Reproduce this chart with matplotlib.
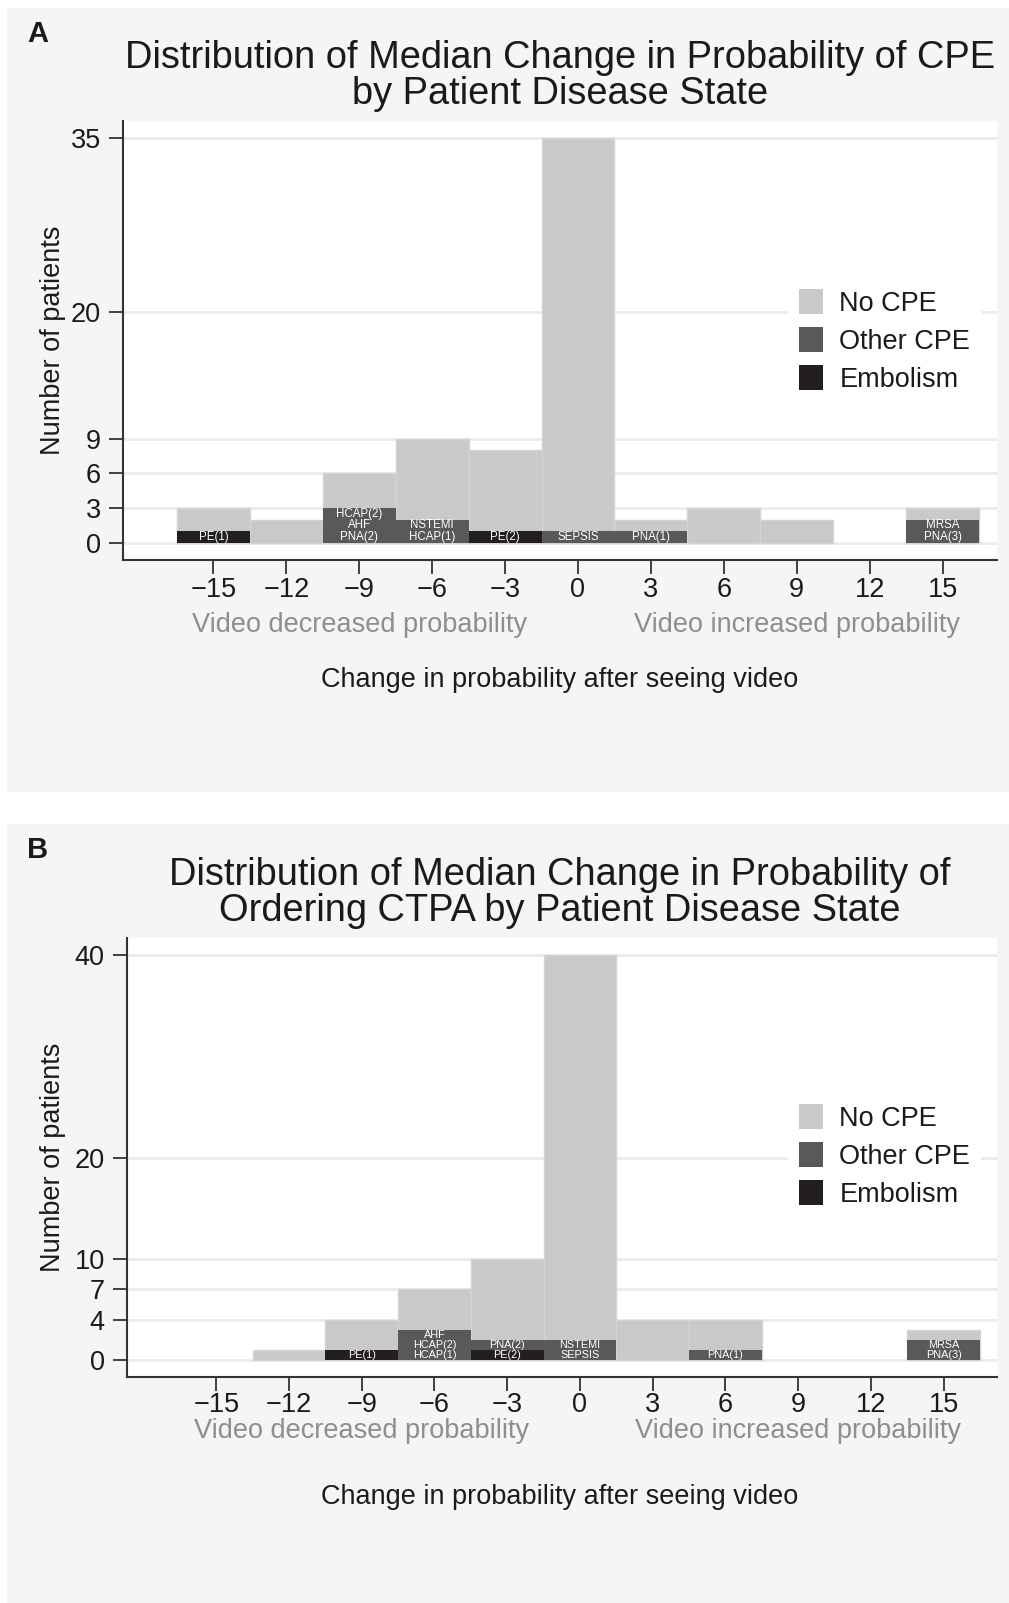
import matplotlib.pyplot as plt
from matplotlib.patches import Patch, Rectangle
from matplotlib.transforms import blended_transform_factory

plt.rcParams['font.family'] = ['Liberation Sans', 'DejaVu Sans']

# bin centres (change in probability, width 3)
bins = [-15, -12, -9, -6, -3, 0, 3, 6, 9, 12, 15]

# panel A: probability of CPE
a_total = [3, 2, 6, 9, 8, 35, 2, 3, 2, 0, 3]
a_embolism = [1, 0, 0, 0, 1, 0, 0, 0, 0, 0, 0]
a_other = [0, 0, 3, 2, 0, 1, 1, 0, 0, 0, 2]
# labels from bottom to top inside the coloured part of each bar
a_labels = [["PE(1)"], [], ["PNA(2)", "AHF", "HCAP(2)"], ["HCAP(1)", "NSTEMI"],
            ["PE(2)"], ["SEPSIS"], ["PNA(1)"], [], [], [], ["PNA(3)", "MRSA"]]
a_yticks = [0, 3, 6, 9, 20, 35]

# panel B: probability of ordering CTPA
b_total = [0, 1, 4, 7, 10, 40, 4, 4, 0, 0, 3]
b_embolism = [0, 0, 1, 0, 1, 0, 0, 0, 0, 0, 0]
b_other = [0, 0, 0, 3, 1, 2, 0, 1, 0, 0, 2]
b_labels = [[], [], ["PE(1)"], ["HCAP(1)", "HCAP(2)", "AHF"], ["PE(2)", "PNA(2)"],
            ["SEPSIS", "NSTEMI"], [], ["PNA(1)"], [], [], ["PNA(3)", "MRSA"]]
b_yticks = [0, 4, 7, 10, 20, 40]

C_NO = "#c8c9cb"
C_OTHER = "#59595b"
C_EMB = "#231f20"
C_TXT = "#1a1a1a"
C_HINT = "#8e8e8e"

W, H = 1009, 1603
fig = plt.figure(figsize=(W / 100, H / 100), dpi=100)
fig.patch.set_facecolor("white")


def fx(x):
    return x / W


def fy(y):
    return 1 - y / H


def nonzero(xs, hs, bottoms=None):
    # skip empty bins so no outline is drawn for them
    if bottoms is None:
        bottoms = [0] * len(xs)
    keep = [i for i, h in enumerate(hs) if h > 0]
    return [xs[i] for i in keep], [hs[i] for i in keep], [bottoms[i] for i in keep]


def panel(letter, title, top, bot, box, total, emb, other, labels, yticks,
          xlim, ylim, lab_size, tick_pad, hint_off, leg_off):
    # grey panel background
    fig.patches.append(Rectangle((fx(7), fy(box[1])), fx(1009 - 7), (box[1] - box[0]) / H,
                                 transform=fig.transFigure, facecolor="#f5f5f5",
                                 edgecolor="none", zorder=-10))
    left, right = box[2], 997
    ax = fig.add_axes([fx(left), fy(bot), fx(right - left), (bot - top) / H])
    ax.set_facecolor("white")

    x, h, b = nonzero(bins, total)
    ax.bar(x, h, width=3, color=C_NO, edgecolor="#d3d4d6", linewidth=1, zorder=2)
    x, h, b = nonzero(bins, emb)
    ax.bar(x, h, width=3, color=C_EMB, linewidth=0, zorder=3)
    x, h, b = nonzero(bins, other, emb)
    ax.bar(x, h, width=3, bottom=b, color=C_OTHER, linewidth=0, zorder=3)
    for xc, labs in zip(bins, labels):
        for k, s in enumerate(labs):
            ax.text(xc, k + 0.5, s, color="white", fontsize=lab_size,
                    ha="center", va="center", zorder=4)

    ax.set_xlim(*xlim)
    ax.set_ylim(*ylim)
    ax.set_xticks(bins)
    ax.set_yticks(yticks)
    ax.tick_params(axis="both", labelsize=19.5, length=10, width=1.3,
                   color="#333333", labelcolor=C_TXT, pad=6)
    ax.tick_params(axis="x", pad=tick_pad)
    ax.yaxis.grid(True, color="#ebebeb", linewidth=2)
    ax.set_axisbelow(True)
    for s in ["top", "right"]:
        ax.spines[s].set_visible(False)
    for s in ["left", "bottom"]:
        ax.spines[s].set_color("#333333")
        ax.spines[s].set_linewidth(1.5)

    # grey hints under the x ticks
    trans = blended_transform_factory(ax.transData, fig.transFigure)
    hy = fy(bot + hint_off)
    ax.text(-9, hy, "Video decreased probability", fontsize=19.5, color=C_HINT,
            ha="center", va="center", transform=trans)
    ax.text(9, hy, "Video increased probability", fontsize=19.5, color=C_HINT,
            ha="center", va="center", transform=trans)

    fig.text(fx(38), fy(box[0] + 26), letter, fontsize=21, fontweight="bold",
             color=C_TXT, ha="center", va="center")
    fig.text(fx(560), fy(top - 45), title, fontsize=27.4, color=C_TXT,
             ha="center", va="center", linespacing=1.02)
    fig.text(fx(53), fy((top + bot) / 2), "Number of patients", fontsize=19.5,
             color=C_TXT, rotation=90, ha="center", va="center")
    fig.text(fx(560), fy(bot + 120), "Change in probability after seeing video",
             fontsize=19.5, color=C_TXT, ha="center", va="center")

    handles = [Patch(facecolor=C_NO, label="No CPE"),
               Patch(facecolor=C_OTHER, label="Other CPE"),
               Patch(facecolor=C_EMB, label="Embolism")]
    leg = ax.legend(handles=handles, loc="upper left",
                    bbox_to_anchor=(fx(788), fy(top + leg_off)),
                    bbox_transform=fig.transFigure, fontsize=19.5, frameon=True,
                    fancybox=False, edgecolor="none", facecolor="white", framealpha=1,
                    handlelength=0.9, handleheight=1.05, handletextpad=0.6,
                    labelspacing=0.38, borderpad=0.4, borderaxespad=0)
    for t in leg.get_texts():
        t.set_color(C_TXT)
    return ax


panel("A", "Distribution of Median Change in Probability of CPE\nby Patient Disease State",
      121, 560, (8, 792, 123), a_total, a_embolism, a_other, a_labels, a_yticks,
      (-18.72, 17.24), (-1.5, 36.5), 8.3, 2.5, 65, 157)
panel("B", "Distribution of Median Change in Probability of\nOrdering CTPA by Patient Disease State",
      938, 1377, (824, 1603, 127), b_total, b_embolism, b_other, b_labels, b_yticks,
      (-18.68, 17.2), (-1.65, 41.7), 7.8, 1.0, 54, 155)

fig.savefig("out.png", dpi=100)
